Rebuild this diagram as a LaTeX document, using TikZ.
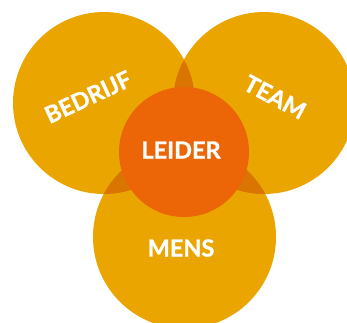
\documentclass[tikz,border=0pt]{standalone}
\usepackage{fontspec}
\setmainfont{Lato}[BoldFeatures={FakeBold=1.2}]
\definecolor{goud}{HTML}{EAA500}
\definecolor{goudDonker}{HTML}{D97500}
\definecolor{oranje}{HTML}{EC6608}
\tikzset{
  label/.style={text=white,font=\bfseries\fontsize{23.5}{23.5}\selectfont,inner sep=0pt}
}
\begin{document}
\begin{tikzpicture}[x=1pt,y=-1pt]
    \useasboundingbox (0,0) rectangle (347,322);
    \clip (0,0) rectangle (347,322);
    % cirkels
    \fill[goud] (104,103) circle (91);
    \fill[goud] (264,103) circle (91);
    \fill[goud] (184.5,237) circle (91.5);
    % overlap
    \begin{scope}
        \clip (104,103) circle (91);
        \fill[goudDonker] (264,103) circle (91);
        \fill[goudDonker] (184.5,237) circle (91.5);
    \end{scope}
    \begin{scope}
        \clip (264,103) circle (91);
        \fill[goudDonker] (184.5,237) circle (91.5);
    \end{scope}
    \fill[oranje] (184,152) circle (65);
    % teksten
    \node[label,rotate=25] (bedrijf) at (88,97) {BEDRIJF};
    \node[label,rotate=-28] (team) at (275,97) {TEAM};
    \node[label] (leider) at (181,150) {LEIDER};
    \node[label] (mens) at (181,248) {MENS};
\end{tikzpicture}
\end{document}
